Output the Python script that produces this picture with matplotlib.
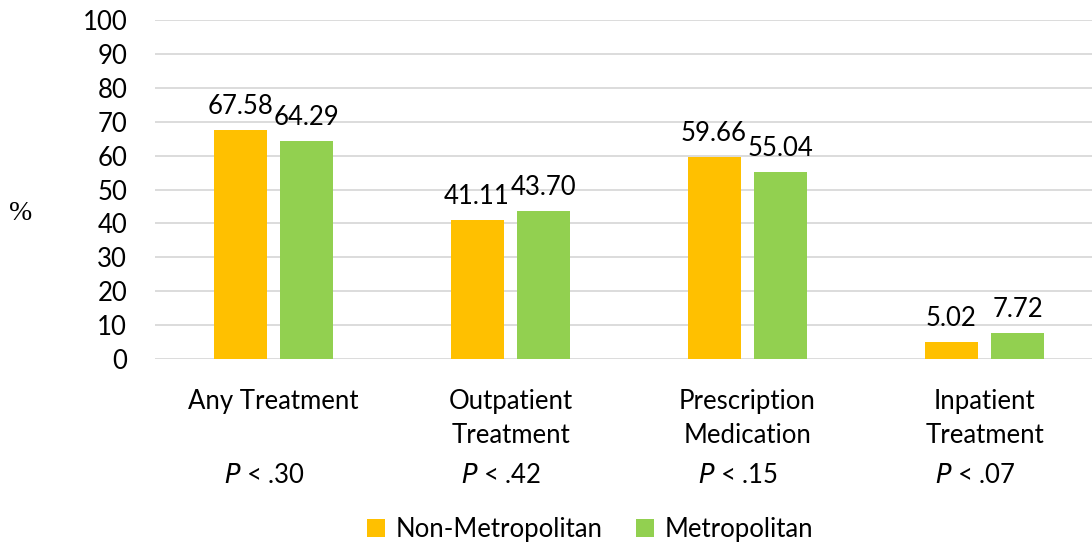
import matplotlib
matplotlib.use("Agg")
import matplotlib.pyplot as plt
from matplotlib.patches import Patch
import numpy as np

categories = ["Any Treatment", "Outpatient\nTreatment", "Prescription\nMedication", "Inpatient\nTreatment"]
p_values = [".30", ".42", ".15", ".07"]
series_names = ["Non-Metropolitan", "Metropolitan"]
non_metro = [67.58, 41.11, 59.66, 5.02]
metro = [64.29, 43.70, 55.04, 7.72]
colors = ["#FFC000", "#92D050"]
yticks = list(range(0, 101, 10))

FONT = ["Lato", "DejaVu Sans"]
plt.rcParams["font.family"] = FONT
FS = 18.5

W, H = 1092, 544
fig = plt.figure(figsize=(W / 100, H / 100), dpi=100)
left_px, right_px = 155, 1103
top_px, bottom_px = 20, 359
ax = fig.add_axes([left_px / W, 1 - bottom_px / H, (right_px - left_px) / W, (bottom_px - top_px) / H])

x = np.arange(len(categories))
bw = 0.224
off = 0.141
b1 = ax.bar(x - off, non_metro, bw, color=colors[0], zorder=3)
b2 = ax.bar(x + off, metro, bw, color=colors[1], zorder=3)

for bars, vals in ((b1, non_metro), (b2, metro)):
    for rect, v in zip(bars, vals):
        ax.annotate(f"{v:.2f}", (rect.get_x() + rect.get_width() / 2, v),
                    xytext=(0, 8), textcoords="offset points",
                    ha="center", va="bottom", fontsize=FS, color="#000000")

ax.set_xlim(-0.5, len(categories) - 0.5)
ax.set_ylim(0, 100)
ax.set_yticks(yticks)
ax.set_yticklabels([str(t) for t in yticks], fontsize=FS)
ax.tick_params(axis="y", length=0, pad=20)
ax.tick_params(axis="x", length=0, bottom=False, labelbottom=False)
ax.yaxis.grid(True, color="#D9D9D9", linewidth=1.3, zorder=0)
for s in ax.spines.values():
    s.set_visible(False)

# category labels
for i, c in enumerate(categories):
    ax.text(i, -8.8, c, transform=ax.transData, ha="center", va="top",
            fontsize=FS, linespacing=1.47, clip_on=False)
    ax.text(i - 0.04, -34.5, f"$\\mathit{{P}}$ < {p_values[i]}", ha="center", va="center",
            fontsize=FS, clip_on=False)

fig.text(21 / W, 1 - 213 / H, "%", fontsize=20, family="Liberation Serif", ha="center", va="center")

handles = [Patch(facecolor=colors[0]), Patch(facecolor=colors[1])]
fig.legend(handles, series_names, loc="center", bbox_to_anchor=(590 / W, 1 - 529 / H),
           ncol=2, frameon=False, fontsize=FS, handlelength=0.7, handleheight=0.7,
           handletextpad=0.4, columnspacing=1.3)

fig.savefig("out.png", dpi=100)
